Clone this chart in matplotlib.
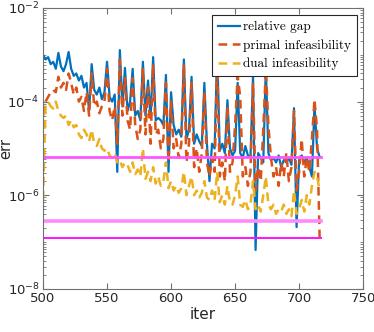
import numpy as np
import matplotlib
matplotlib.use('Agg')
import matplotlib.pyplot as plt
from matplotlib.ticker import LogLocator, NullFormatter

# iterations (every 2nd iteration)
iters = list(range(500, 718, 2))

# log10 of the errors
gap_log = [-3.0, -3.1, -3.05, -3.2, -3.15, -3.3, -2.96, -3.25, -3.35, -3.2,
           -2.94, -3.3, -3.45, -3.4, -3.55, -3.45, -3.7, -3.6, -4.2, -3.2,
           -3.75, -3.85, -3.7, -3.95, -3.8, -3.15, -3.9, -4.0, -3.85, -5.5,
           -2.9, -4.1, -3.28, -4.2, -4.0, -3.3, -4.3, -4.2, -4.4, -3.15,
           -4.3, -3.55, -4.35, -3.05, -4.4, -4.35, -4.4, -4.5, -3.43, -5.5,
           -3.8, -4.5, -4.7, -4.6, -4.75, -3.1, -4.8, -4.6, -3.47, -4.9,
           -4.7, -4.85, -4.95, -3.6, -4.9, -5.7, -4.9, -5.0, -2.9, -5.05,
           -4.9, -5.1, -3.97, -5.0, -5.15, -5.05, -3.6, -5.1, -5.2, -4.95,
           -5.15, -5.2, -3.47, -7.17, -5.1, -5.2, -5.3, -3.26, -5.1, -5.25,
           -5.2, -5.3, -5.15, -5.4, -5.25, -5.3, -5.2, -5.35, -4.14, -6.68,
           -5.25, -5.15, -5.3, -5.2, -5.4, -5.6, -4.07, -5.0, -5.18]

primal_log = [-4.3, -4.0, -3.9, -3.8, -3.75, -3.8, -3.47, -3.7, -3.6, -3.75,
              -3.4, -3.6, -3.85, -3.7, -4.0, -3.9, -4.2, -3.8, -4.3, -3.4,
              -4.1, -4.0, -4.25, -4.1, -4.0, -3.3, -4.2, -4.4, -4.1, -4.9,
              -3.1, -4.3, -3.5, -4.4, -4.6, -3.5, -4.5, -4.8, -4.6, -3.3,
              -4.7, -3.7, -4.9, -3.2, -4.7, -4.6, -5.0, -4.8, -3.6, -5.3,
              -4.0, -5.0, -4.8, -5.2, -4.9, -3.2, -5.3, -4.9, -3.6, -5.4,
              -5.0, -5.5, -5.1, -3.8, -5.3, -5.6, -5.2, -5.5, -3.1, -5.6,
              -5.3, -5.7, -4.1, -5.5, -5.3, -4.5, -3.45, -3.9, -5.6, -5.4,
              -5.8, -5.5, -3.6, -5.9, -5.4, -5.7, -4.6, -3.3, -4.5, -5.2,
              -5.6, -5.4, -5.8, -5.3, -5.6, -5.1, -5.7, -5.4, -4.2, -5.9,
              -5.5, -4.8, -5.6, -5.2, -5.5, -4.8, -3.95, -4.6, -6.9]

dual_log = [-6.1, -4.1, -4.0, -4.1, -4.15, -4.0, -4.2, -4.3, -4.35, -4.3,
            -4.5, -4.4, -4.55, -4.5, -4.7, -4.78, -4.6, -4.7, -4.85, -4.6,
            -4.9, -4.95, -4.8, -5.0, -5.05, -5.0, -5.15, -5.2, -5.1, -5.3,
            -5.25, -5.4, -5.3, -5.35, -5.5, -5.3, -5.55, -5.45, -5.6, -5.0,
            -5.65, -5.5, -5.7, -5.4, -5.75, -5.6, -5.8, -5.7, -5.3, -5.85,
            -5.7, -5.9, -5.8, -5.95, -5.85, -5.5, -6.0, -5.8, -5.6, -6.0,
            -5.9, -6.05, -5.95, -5.7, -6.05, -6.1, -5.9, -6.1, -5.5, -6.15,
            -6.0, -6.2, -5.8, -6.15, -6.2, -6.0, -5.6, -6.2, -6.25, -6.1,
            -6.3, -6.2, -5.7, -6.3, -6.2, -6.35, -6.0, -5.6, -6.2, -6.3,
            -6.2, -6.4, -6.3, -6.35, -6.2, -6.4, -6.3, -6.45, -5.9, -6.4,
            -6.3, -6.1, -6.35, -6.0, -6.2, -5.8, -5.5, -5.6, -5.9]

# horizontal tolerance levels
tol_levels = [6.6e-6, 2.8e-7, 1.2e-7]
tol_colors = ['#ff55ff', '#ff88ff', '#ff11ff']
tol_widths = [2.0, 2.6, 1.4]

gap = 10.0 ** np.array(gap_log)
primal = 10.0 ** np.array(primal_log)
dual = 10.0 ** np.array(dual_log)

fig = plt.figure(figsize=(3.74, 3.32), dpi=100)
ax = fig.add_axes([0.115, 0.13, 0.856, 0.846])

ax.plot(iters, gap, color='#0072BD', lw=1.6, label='relative gap')
ax.plot(iters, primal, color='#D95319', lw=1.8, dashes=(3.5, 2.2), label='primal infeasibility')
ax.plot(iters, dual, color='#EDB120', lw=1.8, dashes=(3.5, 2.2), label='dual infeasibility')

for lev, c, w in zip(tol_levels, tol_colors, tol_widths):
    ax.plot([iters[0], iters[-1] + 1], [lev, lev], color=c, lw=w)

ax.set_yscale('log')
ax.set_xlim(500, 750)
ax.set_ylim(1e-8, 1e-2)
ax.set_xticks([500, 550, 600, 650, 700, 750])
ax.set_yticks([1e-8, 1e-6, 1e-4, 1e-2])
ax.yaxis.set_minor_locator(LogLocator(base=10, subs=np.arange(1, 10), numticks=100))
ax.yaxis.set_minor_formatter(NullFormatter())

for s in ax.spines.values():
    s.set_color('#707070')
    s.set_linewidth(0.8)
ax.tick_params(which='both', direction='in', top=True, right=True, colors='#707070',
               labelcolor='#262626', labelsize=9.5)
ax.tick_params(which='major', length=4, pad=2.5)
ax.tick_params(which='minor', length=2)

ax.set_xlabel('iter', fontsize=11, color='#262626', labelpad=1)
ax.set_ylabel('err', fontsize=10.5, color='#262626')
ax.yaxis.set_label_coords(-0.092, 0.5)

leg = ax.legend(loc='upper right', bbox_to_anchor=(0.981, 0.975), borderaxespad=0,
                prop={'family': 'cmr10', 'size': 9.5}, handlelength=1.7,
                handletextpad=0.2, borderpad=0.45, labelspacing=0.45,
                fancybox=False, framealpha=1, edgecolor='#262626')
leg.get_frame().set_linewidth(0.8)

fig.savefig('out.png', dpi=100)
